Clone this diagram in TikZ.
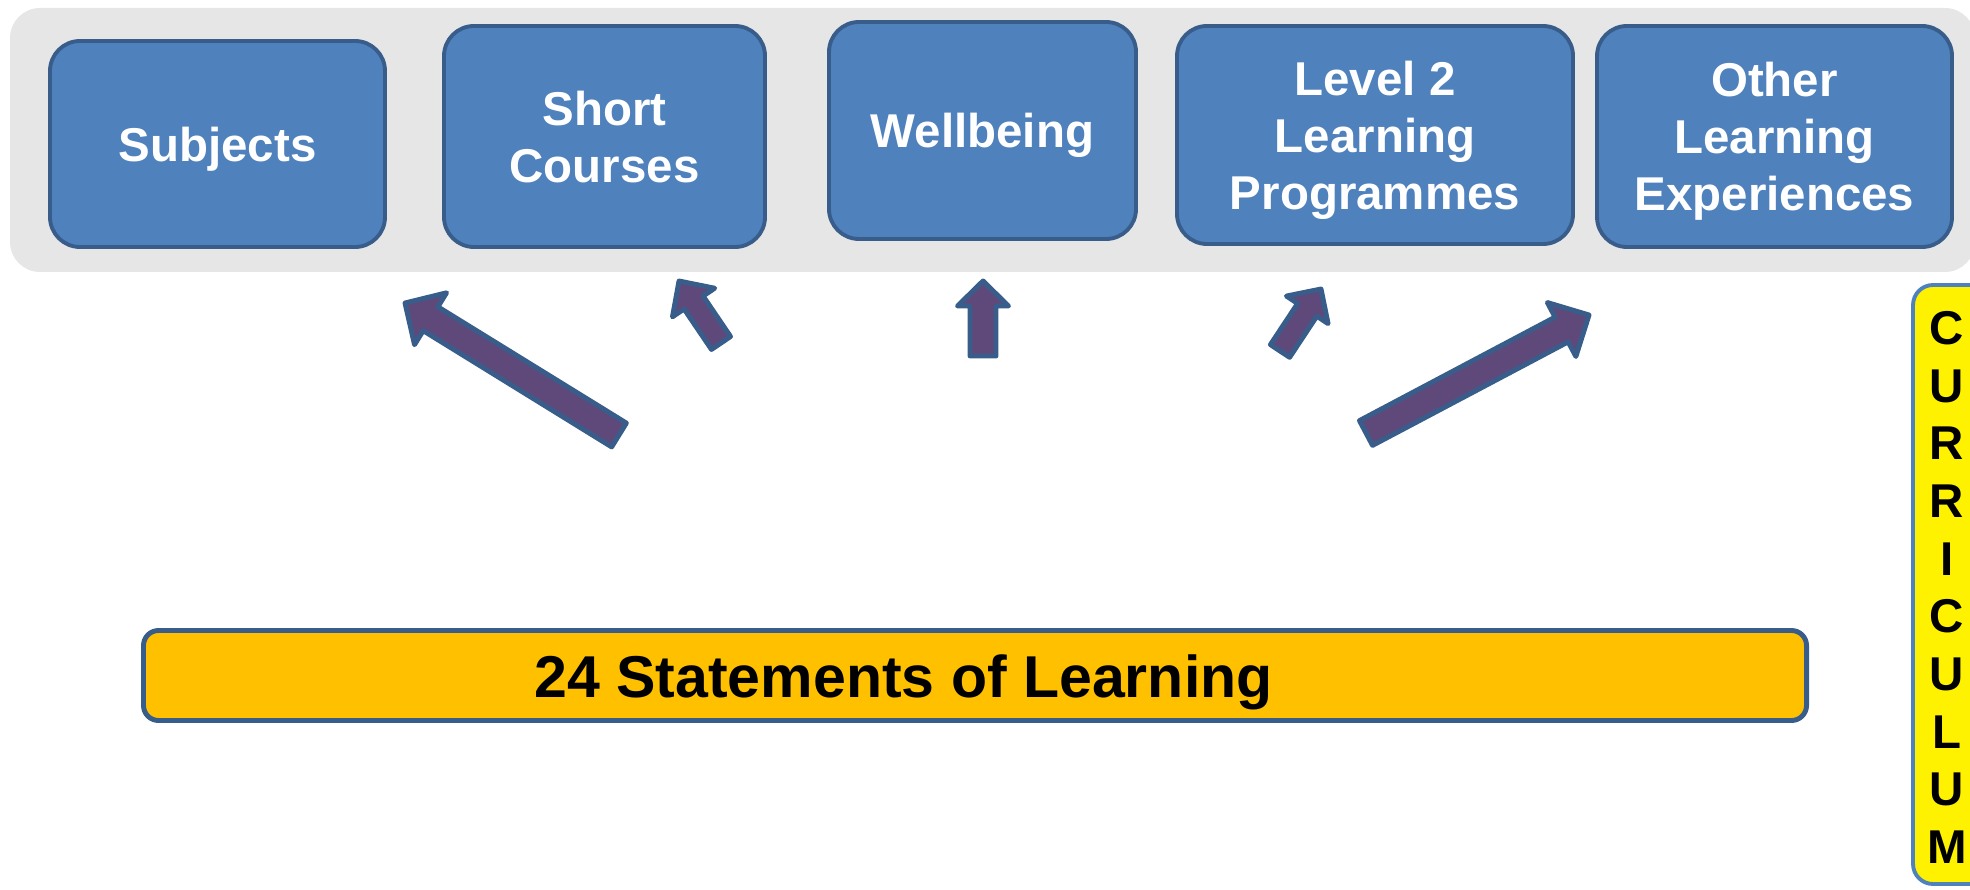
\documentclass[tikz,border=0pt]{standalone}
\usepackage{fontspec}
\setmainfont{Liberation Sans}
\usepackage{xcolor}
\usetikzlibrary{calc}
\definecolor{panelgray}{HTML}{E6E6E6}
\definecolor{boxblue}{HTML}{4F81BD}
\definecolor{edgeblue}{HTML}{385D8A}
\definecolor{barorange}{HTML}{FFC000}
\definecolor{arrowpurple}{HTML}{5F497A}
\tikzset{%
panel/.style={fill=panelgray,rounded corners=0.3cm},
topic/.style={draw=edgeblue,fill=boxblue,line width=1.1pt,rounded corners=0.3cm,text=white,font=\bfseries\fontsize{13.5}{16.2}\selectfont,align=center,inner sep=0pt,text depth=0pt},
statebar/.style={draw=edgeblue,fill=barorange,line width=1.4pt,rounded corners=0.15cm,minimum width=16.63cm,minimum height=0.9cm,inner sep=0pt},
statetext/.style={font=\bfseries\fontsize{16.8}{20}\selectfont,inner sep=0pt},
currbar/.style={draw=boxblue,fill=yellow,line width=1.1pt,rounded corners=0.2cm,minimum width=1.0cm,minimum height=5.99cm,inner sep=0pt},
currtext/.style={font=\bfseries\fontsize{13.5}{16.4}\selectfont,align=center,inner sep=0pt,text depth=0pt},
bigarrow/.style={draw=edgeblue,fill=arrowpurple,line width=1.4pt,line join=round}
}
% tail, tip, shaft half width, head half width, head length
\newcommand{\blockarrow}[5]{%
  \coordinate (ab) at ($(#2)!#5!(#1)$);
  \draw[bigarrow] ($(#1)!#3!90:(#2)$) -- ($(ab)!#3!-90:(#1)$) -- ($(ab)!#4!-90:(#1)$)
    -- (#2) -- ($(ab)!#4!90:(#1)$) -- ($(ab)!#3!90:(#1)$) -- ($(#1)!#3!-90:(#2)$) -- cycle;
}

\begin{document}
\begin{tikzpicture}

  \useasboundingbox (0,0) rectangle (19.70,8.89);
  \fill[panel] (0.10,6.17) rectangle (19.75,8.81);

  \node[topic,minimum width=3.35cm,minimum height=2.06cm] (subj) at (2.175,7.45) {Subjects};
  \node[topic,minimum width=3.21cm,minimum height=2.21cm] (short) at (6.045,7.525) {Short\\Courses};
  \node[topic,minimum width=3.07cm,minimum height=2.17cm] (well) at (9.825,7.585) {Wellbeing};
  \node[topic,minimum width=3.96cm,minimum height=2.18cm] (ltwo) at (13.75,7.54) {Level 2\\Learning\\Programmes};
  \node[topic,minimum width=3.55cm,minimum height=2.21cm] (other) at (17.745,7.525) {Other\\Learning\\Experiences};

  \node[statebar] (sol) at (9.75,2.135) {};
  \node[statetext] (soltext) at ([xshift=-0.715cm,yshift=-0.07cm]sol.center) {24 Statements of Learning};

  \node[currbar] (curr) at (19.63,3.045) {};
  \node[currtext] (currtext) at (19.47,3.015) {C\\U\\R\\R\\I\\C\\U\\L\\U\\M};

  % arrows up from the statements
  \coordinate (t1) at (6.19,4.54);  \coordinate (h1) at (4.05,5.86);
  \coordinate (t2) at (7.21,5.46);  \coordinate (h2) at (6.79,6.08);
  \coordinate (t3) at (9.83,5.33);  \coordinate (h3) at (9.83,6.08);
  \coordinate (t4) at (12.80,5.38); \coordinate (h4) at (13.21,6.00);
  \coordinate (t5) at (13.66,4.56); \coordinate (h5) at (15.89,5.74);

  \blockarrow{t1}{h1}{0.14cm}{0.305cm}{0.30cm}
  \blockarrow{t2}{h2}{0.115cm}{0.255cm}{0.26cm}
  \blockarrow{t3}{h3}{0.13cm}{0.255cm}{0.25cm}
  \blockarrow{t4}{h4}{0.115cm}{0.25cm}{0.25cm}
  \blockarrow{t5}{h5}{0.14cm}{0.305cm}{0.31cm}

\end{tikzpicture}
\end{document}
